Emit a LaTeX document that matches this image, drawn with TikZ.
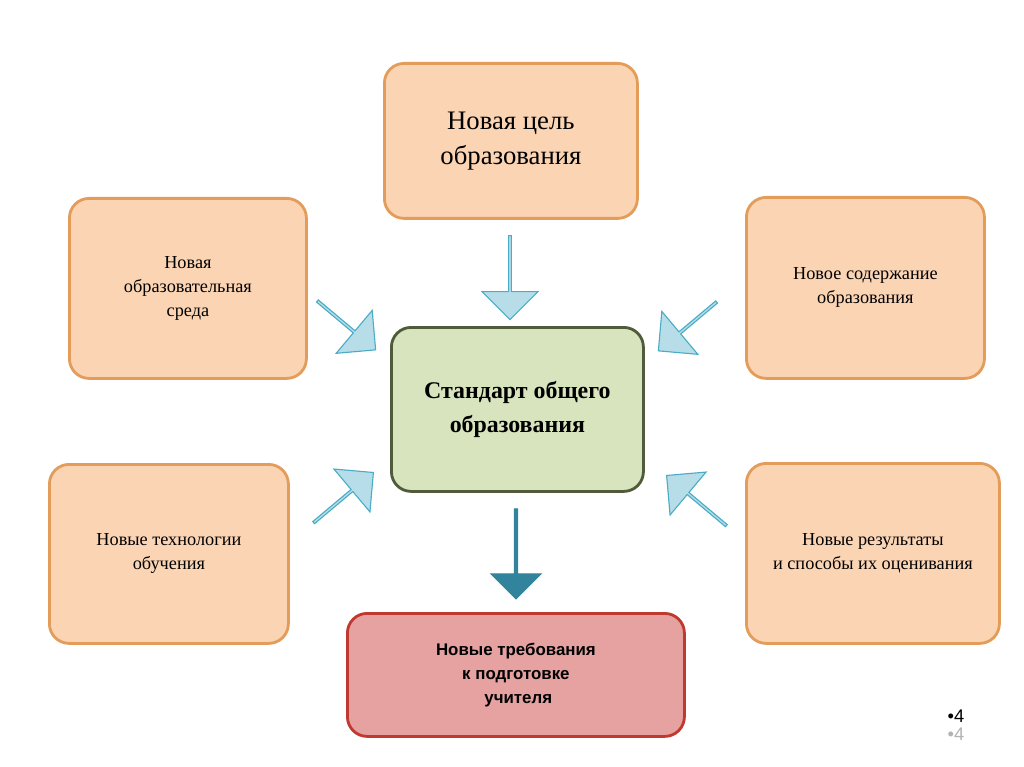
\documentclass[tikz,border=0pt]{standalone}
\usepackage{fontspec}
\setmainfont{Liberation Serif}
\newfontfamily\boldsans{Liberation Sans}
\usetikzlibrary{shapes,arrows,positioning,calc}
\definecolor{peach}{HTML}{FBD4B4}
\definecolor{peachedge}{HTML}{E39C5A}
\definecolor{sage}{HTML}{D7E4BD}
\definecolor{sageedge}{HTML}{4F5B3A}
\definecolor{rose}{HTML}{E6A1A1}
\definecolor{roseedge}{HTML}{C0392F}
\definecolor{skyfill}{HTML}{B7DEE8}
\definecolor{skyedge}{HTML}{4BACC6}
\definecolor{teal}{HTML}{31849B}
\newdimen\px \px=0.025cm

\begin{document}
\begin{tikzpicture}[x=0.025cm, y=-0.025cm,
    block/.style={rectangle, rounded corners=14pt, draw=peachedge, line width=2pt, fill=peach, align=center, anchor=north west},
    pointer/.style={single arrow, draw=skyedge, fill=skyfill, line width=0.8pt, minimum width=56\px, single arrow head extend=11\px, inner sep=0pt}]

    \useasboundingbox (0,0) rectangle (1024,767);

    % outer boxes
    \node[block, minimum width=253\px, minimum height=155\px, font=\fontsize{19}{25}\selectfont] (goal) at (383,62) {Новая цель\\образования};
    \node[block, minimum width=237\px, minimum height=180\px, font=\fontsize{13}{17}\selectfont] (env) at (68,197) {Новая\\образовательная\\среда};
    \node[block, minimum width=238\px, minimum height=181\px, font=\fontsize{13}{17}\selectfont] (content) at (745,196) {Новое содержание\\образования};
    \node[block, minimum width=239\px, minimum height=179\px, font=\fontsize{13}{17}\selectfont] (tech) at (48,463) {Новые технологии\\обучения};
    \node[block, minimum width=253\px, minimum height=180\px, font=\fontsize{13}{17}\selectfont] (results) at (745,462) {Новые результаты\\и способы их оценивания};

    % centre and result
    \node[block, draw=sageedge, fill=sage, minimum width=252\px, minimum height=164\px, font=\bfseries\fontsize{17}{24}\selectfont] (std) at (390,326) {Стандарт общего\\образования};
    \node[block, draw=roseedge, fill=rose, minimum width=337\px, minimum height=123\px, font=\boldsans\bfseries\fontsize{12}{17}\selectfont] (teacher) at (346,612) {Новые требования\\к подготовке\\\ учителя};

    % arrows
    \node[pointer, minimum height=84\px, rotate=-90] (a1) at (510,277) {};
    \node[pointer, minimum height=76\px, rotate=-40] (a2) at (346,325) {};
    \node[pointer, minimum height=76\px, rotate=-140] (a3) at (688,326) {};
    \node[pointer, minimum height=78\px, rotate=40] (a4) at (343,498) {};
    \node[pointer, minimum height=78\px, rotate=140] (a5) at (697,501) {};
    \node[pointer, draw=teal, fill=teal, minimum width=50\px, single arrow head extend=8\px, minimum height=90\px, rotate=-90] (a6) at (516,553) {};

    % page number
    \node[font=\boldsans\fontsize{13}{14}\selectfont] (pg) at (956,716) {•4};
    \node[font=\boldsans\fontsize{13}{14}\selectfont, text=gray!60] (pg2) at (956,734) {•4};
\end{tikzpicture}
\end{document}
